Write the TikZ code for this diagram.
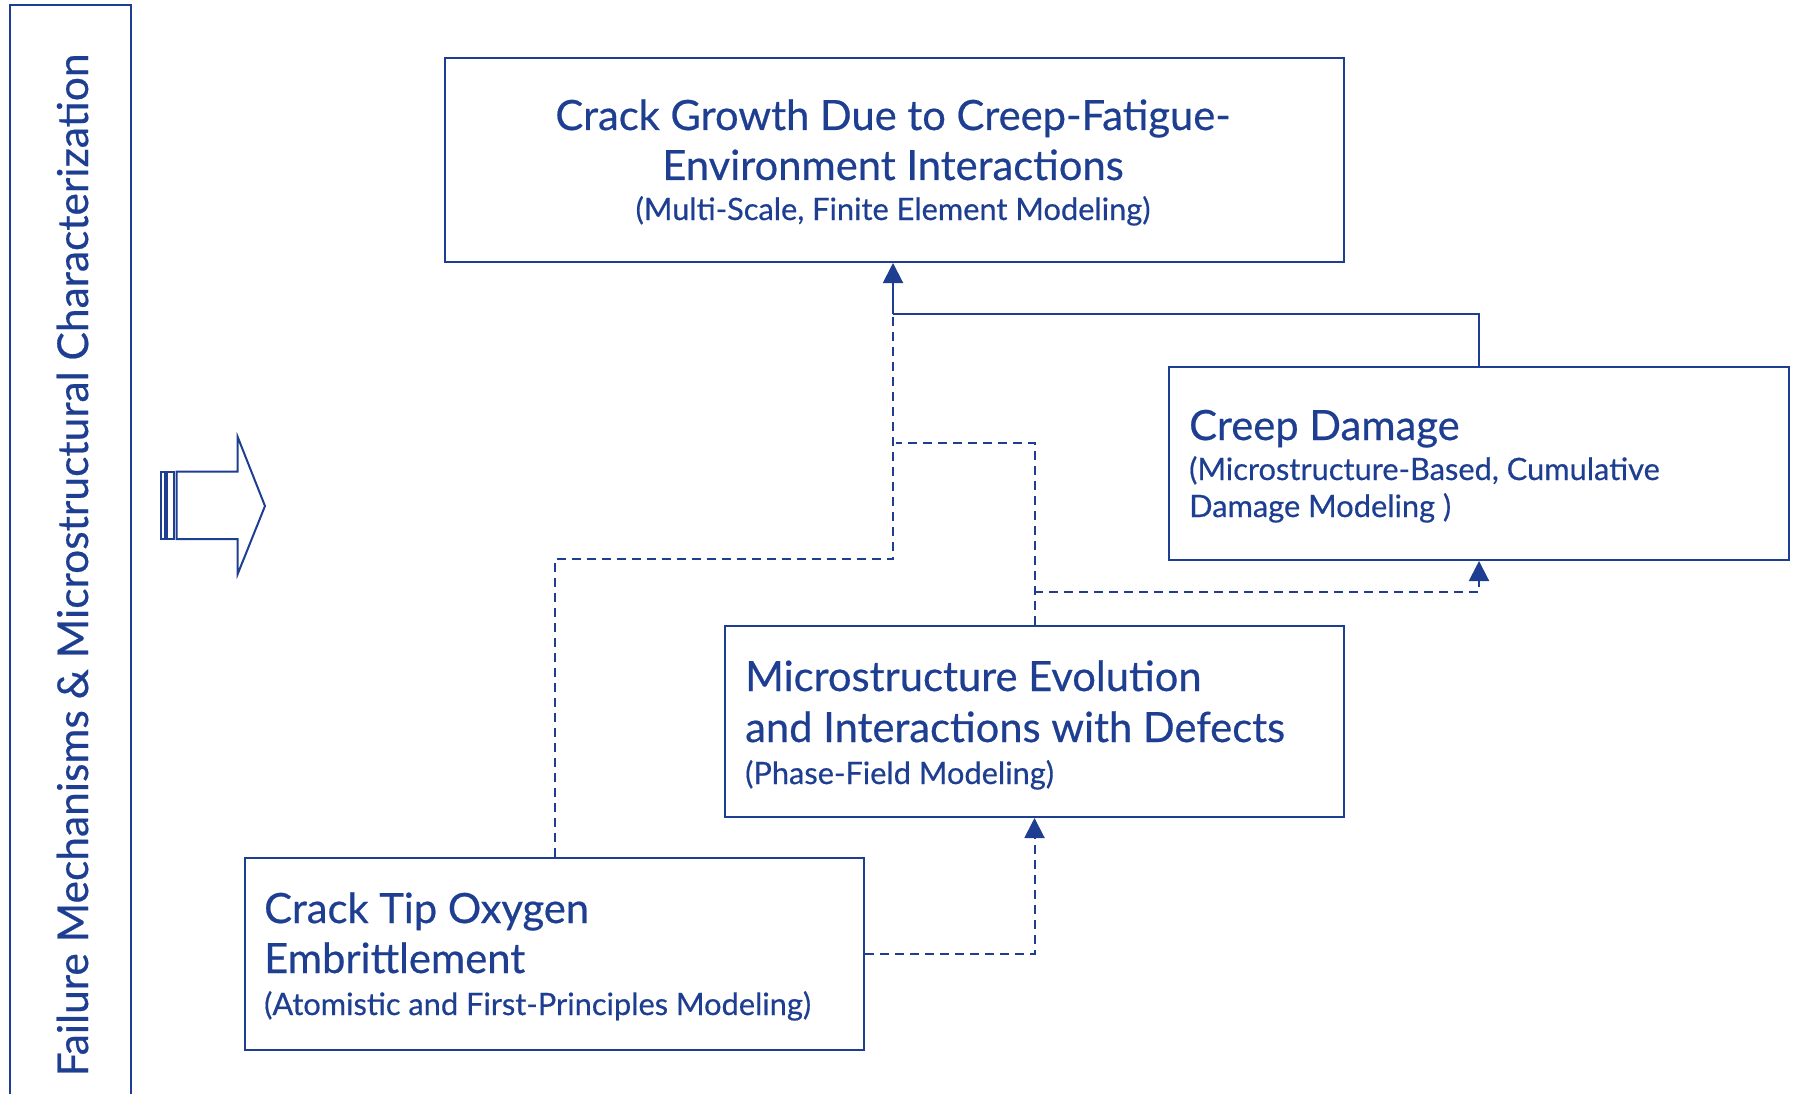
\documentclass[tikz,border=0pt]{standalone}
\usepackage{fontspec}
\setmainfont[FakeBold=0.5]{Lato}
\usetikzlibrary{arrows.meta}
\definecolor{geblue}{RGB}{30,62,145}
\begin{document}
\begin{tikzpicture}[x=1pt,y=-1pt,
  box/.style={draw=geblue, line width=2pt, inner sep=0pt, anchor=north west},
  big/.style={text=geblue, font=\fontsize{41.7}{50}\selectfont, inner sep=0pt},
  small/.style={text=geblue, font=\fontsize{30.8}{36}\selectfont, inner sep=0pt},
  conn/.style={draw=geblue, line width=2pt},
  dconn/.style={conn, dash pattern=on 9pt off 6pt},
  tipar/.style={-{Triangle[width=20pt,length=20pt]}}
]
\useasboundingbox (0,0) rectangle (1795,1094);

% left frame and vertical label
\draw[geblue, line width=2pt] (10,1094) -- (10,5) -- (131,5) -- (131,1094);
\node[big, font=\fontsize{42.5}{50}\selectfont, rotate=90, anchor=base] (side) at (88,565) {Failure Mechanisms \& Microstructural Characterization};

% block arrow
\draw[geblue, line width=1.8pt] (160.7,471.7) rectangle (164.7,539);
\draw[geblue, line width=1.8pt] (167,471.7) rectangle (174,539);
\draw[geblue, line width=2pt, line join=miter] (176.7,471.7) -- (237.7,471.7) -- (237.7,437) -- (265,506) -- (237.7,574) -- (237.7,539) -- (176.7,539) -- cycle;

% boxes
\node[box, minimum width=899pt, minimum height=204pt] (top) at (444,57) {};
\node[box, minimum width=620pt, minimum height=193pt] (creep) at (1168,366) {};
\node[box, minimum width=619pt, minimum height=191pt] (micro) at (724,625) {};
\node[box, minimum width=619pt, minimum height=192pt] (tipbox) at (244,857) {};

% texts
\node[big, anchor=base] (t1) at (893,130) {Crack Growth Due to Creep-Fatigue-};
\node[big, anchor=base] (t2) at (893,180) {Environment Interactions};
\node[small, anchor=base] (t3) at (893,220) {(Multi-Scale, Finite Element Modeling)};

\node[big, anchor=base west] (c1) at (1189,440) {Creep Damage};
\node[small, anchor=base west] (c2) at (1189,480) {(Microstructure-Based, Cumulative};
\node[small, anchor=base west] (c3) at (1189,517) {Damage Modeling )};

\node[big, anchor=base west] (m1) at (745,691) {Microstructure Evolution};
\node[big, anchor=base west] (m2) at (745,742) {and Interactions with Defects};
\node[small, anchor=base west] (m3) at (745,784) {(Phase-Field Modeling)};

\node[big, anchor=base west] (k1) at (264,923) {Crack Tip Oxygen};
\node[big, anchor=base west] (k2) at (264,973) {Embrittlement};
\node[small, anchor=base west] (k3) at (264,1015) {(Atomistic and First-Principles Modeling)};

% connectors
\coordinate (junc) at (893,314);
\coordinate (j2) at (893,559);
\coordinate (j3) at (896,443);
\coordinate (j4) at (1034,592);
\draw[conn] (creep.north) |- (junc);
\draw[conn, tipar] (junc) -- (junc |- top.south);
\draw[dconn] (tipbox.north) |- (j2) -- (junc);
\draw[dconn] (micro.north) |- (j3);
\draw[dconn, tipar] (j4) -| (creep.south);
\draw[dconn, tipar] (tipbox.east) -| (micro.south);
\end{tikzpicture}
\end{document}
